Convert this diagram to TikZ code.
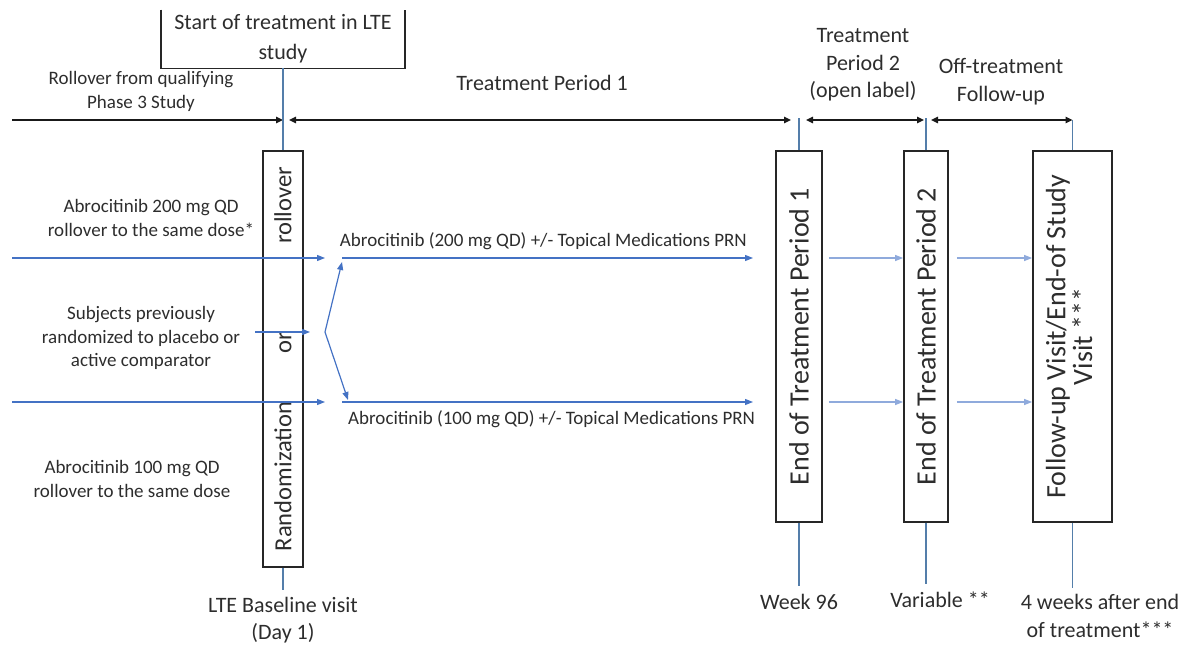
\documentclass[tikz,border=0pt]{standalone}
\usepackage{fontspec}
\setmainfont{Carlito}
\usetikzlibrary{arrows.meta}
\definecolor{armblue}{RGB}{68,114,196}
\definecolor{linkblue}{RGB}{143,170,220}
\definecolor{stemblue}{RGB}{84,126,170}
\definecolor{inkgray}{RGB}{45,45,45}

\begin{document}
\begin{tikzpicture}[
  x=0.5pt, y=-0.5pt,
  >={Triangle[length=3.5pt,width=3.2pt]},
  lbl/.style      = {font=\fontsize{9.5}{11.75}\selectfont, align=center,
                     text=inkgray, inner sep=1pt},
  hd/.style       = {font=\fontsize{11}{13.75}\selectfont, align=center,
                     text=inkgray, inner sep=1pt},
  visitbox/.style = {draw=black!85, line width=0.9pt, inner sep=0pt,
                     minimum height=185.5pt, text=inkgray,
                     font=\fontsize{14}{11.7}\selectfont},
  period/.style   = {line width=1pt, black!90},
  arm/.style      = {-{Triangle[length=4pt,width=3pt]}, line width=0.6pt, armblue},
  link/.style     = {-{Triangle[length=4pt,width=3pt]}, line width=0.6pt, linkblue},
  stem/.style     = {line width=0.6pt, stemblue},
]
\useasboundingbox (0,0) rectangle (1189,648);

% ---------- start box (open at the top) ----------
\node[hd, font=\fontsize{11}{15}\selectfont, minimum width=121.5pt,
      minimum height=29pt] (start) at (283,39) {Start of treatment in LTE\\study};
\draw[black!85, line width=0.9pt] (start.north west) -- (start.south west)
      -- (start.south east) -- (start.north east);

% ---------- visit boxes ----------
\node[visitbox, minimum width=20pt, minimum height=208pt,
      font=\fontsize{12.3}{14}\selectfont] (rand) at (283,359)
      {\rotatebox{90}{Randomization\hspace{24pt}or\hspace{44pt}rollover}};
\node[visitbox, minimum width=23pt] (eot1) at (799,336.5)
      {\rotatebox{90}{End of Treatment Period 1}};
\node[visitbox, minimum width=22pt] (eot2) at (926,336.5)
      {\rotatebox{90}{End of Treatment Period 2}};
\node[visitbox, minimum width=39.5pt] (fu) at (1072.5,336.5)
      {\rotatebox{90}{\begin{tabular}{@{}c@{}}Follow-up Visit/End-of Study\\Visit ***\end{tabular}}};

% ---------- period headers ----------
\node[lbl] (rollhd) at (141,91.5) {Rollover from qualifying\\Phase 3 Study};
\node[hd]  (tp1)    at (542,83)   {Treatment Period 1};
\node[hd]  (tp2)    at (863,65)   {Treatment\\Period 2\\(open label)};
\node[hd]  (offhd)  at (1001,81.5) {Off-treatment\\Follow-up};

% ---------- timeline ----------
\coordinate (p0) at (12,120);
\draw[period, ->] (p0) -- (p0 -| rand.north);
\draw[period, <->, shorten <=3pt, shorten >=4pt] (p0 -| rand.north) -- (p0 -| eot1.north);
\draw[period, <->, shorten <=3.5pt, shorten >=1pt] (p0 -| eot1.north) -- (p0 -| eot2.north);
\draw[period, <->, shorten <=2.5pt] (p0 -| eot2.north) -- (p0 -| fu.north);

% ---------- bottom labels ----------
\node[hd] (base) at (283,620)  {LTE Baseline visit\\(Day 1)};
\node[hd] (wk96) at (799,602)  {Week 96};
\node[hd] (var)  at (940,600)  {Variable **};
\node[hd] (fuwk) at (1100,616) {4 weeks after end\\of treatment***};

% ---------- stems ----------
\draw[stem] (start.south) -- (rand.north);
\draw[stem, shorten >=2pt] (rand.south) -- (base.north);
\draw[stem] (eot1.north) -- ([yshift=1pt]eot1.north |- p0);
\draw[stem] (eot2.north) -- ([yshift=1pt]eot2.north |- p0);
\draw[stem] (fu.north)   -- (fu.north |- p0);
\draw[stem, shorten >=3pt] (eot1.south) -- (eot1.south |- wk96.north);
\draw[stem, shorten >=3pt] (eot2.south) -- (eot2.south |- var.north);
\draw[stem, shorten >=2pt] (fu.south)   -- (fu.south |- fuwk.north);

% ---------- incoming subjects ----------
\node[lbl] (l200) at (151,218) {Abrocitinib 200 mg QD\\rollover to the same dose*};
\node[lbl] (lpbo) at (141,338) {Subjects previously\\randomized to placebo or\\active comparator};
\node[lbl] (l100) at (132,479) {Abrocitinib 100 mg QD\\rollover to the same dose};

\coordinate (in200)  at (12,258);
\coordinate (in100)  at (12,402);
\coordinate (inpbo)  at (255,332);
\coordinate (split)  at (325,332);
\coordinate (arm200) at (342,258);
\coordinate (arm100) at (342,402);
\coordinate (end200) at (753,258);
\coordinate (end100) at (753,402);

\draw[arm] (in200) -- (in200 -| split);
\draw[arm] (in100) -- (in100 -| split);
\draw[arm] (inpbo) -- ([xshift=-7.5pt]split);
\draw[arm] (split) -- ([yshift=-2pt]arm200);
\draw[arm] (split) -- ([shift={(3pt,1pt)}]arm100);

% ---------- treatment arms ----------
\draw[arm] (arm200) -- (end200)
      node[lbl, pos=0.49, above=3pt] {Abrocitinib (200 mg QD) +/- Topical Medications PRN};
\draw[arm] (arm100) -- (end100)
      node[lbl, pos=0.51, below=3pt] {Abrocitinib (100 mg QD) +/- Topical Medications PRN};

% ---------- links between visits ----------
\draw[link, shorten <=3pt] (eot1.east |- end200) -- (eot2.west |- end200);
\draw[link, shorten <=3pt] (eot1.east |- end100) -- (eot2.west |- end100);
\draw[link, shorten <=4pt] (eot2.east |- end200) -- (fu.west |- end200);
\draw[link, shorten <=4pt] (eot2.east |- end100) -- (fu.west |- end100);

\end{tikzpicture}
\end{document}
